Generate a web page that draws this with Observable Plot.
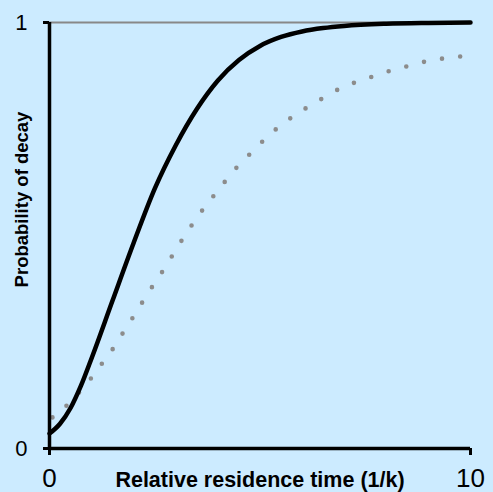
<!DOCTYPE html>
<html>
<head>
<meta charset="utf-8">
<script src="https://cdn.jsdelivr.net/npm/d3@7"></script>
<script src="https://cdn.jsdelivr.net/npm/@observablehq/plot@0.6"></script>
<style>
  html, body { margin: 0; padding: 0; background: #CCEBFF; }
  #chart { width: 493px; height: 492px; overflow: hidden; }
</style>
</head>
<body>
<div id="chart"></div>
<script>
// Solid curve: probability of decay
const timeSolid = [0, 0.25, 0.5, 0.75, 1.0, 1.5, 2.0, 2.5, 3.0, 3.5, 4.0, 4.5, 5.0, 5.5, 6.0, 6.5, 7.0, 8.0, 9.0, 10];
const probSolid = [0.035, 0.058, 0.095, 0.148, 0.212, 0.348, 0.483, 0.610, 0.712, 0.797, 0.864, 0.912, 0.945, 0.966, 0.979, 0.987, 0.992, 0.997, 0.999, 1.0];
// Dotted curve
const timeDotted = [0.07, 0.43, 0.74, 1.02, 1.28, 1.54, 1.78, 2.04, 2.26, 2.52, 2.76, 2.99, 3.23, 3.49, 3.75, 4.04, 4.32, 4.61, 4.92, 5.23, 5.58, 5.96, 6.32, 6.67, 7.05, 7.48, 7.86, 8.31, 8.74, 9.17, 9.57, 10];
const probDotted = [0.073, 0.103, 0.136, 0.169, 0.204, 0.239, 0.277, 0.317, 0.352, 0.392, 0.427, 0.465, 0.502, 0.540, 0.575, 0.610, 0.646, 0.676, 0.707, 0.737, 0.765, 0.791, 0.812, 0.833, 0.852, 0.866, 0.880, 0.892, 0.904, 0.913, 0.918, 0.923];
const xTicks = [0, 10];
const yTicks = [0, 1];
const xLabel = "Relative residence time (1/k)";
const yLabel = "Probability of decay";

const solid = timeSolid.map((t, i) => ({t, p: probSolid[i]}));
const dotted = timeDotted.map((t, i) => ({t, p: probDotted[i]}));

const chart = Plot.plot({
  width: 493,
  height: 492,
  marginLeft: 49,
  marginRight: 23,
  marginTop: 22,
  marginBottom: 44,
  style: {background: "#CCEBFF", fontFamily: "'Liberation Sans', Arial, sans-serif", overflow: "visible"},
  x: {domain: [0, 10]},
  y: {domain: [0, 1]},
  marks: [
    Plot.ruleY([1], {stroke: "#888888", strokeWidth: 2}),
    Plot.line(dotted, {x: "t", y: "p", curve: "monotone-x", stroke: "#8c8c8c", strokeWidth: 4.6, strokeLinecap: "round", strokeDasharray: "0 18.3"}),
    Plot.line(solid, {x: "t", y: "p", curve: "monotone-x", stroke: "black", strokeWidth: 4.5}),
    Plot.ruleX([0], {stroke: "black", strokeWidth: 3.5}),
    Plot.ruleY([0], {stroke: "black", strokeWidth: 3.5}),
    Plot.axisY({ticks: yTicks, tickFormat: d => String(d), tickSize: 6, strokeWidth: 3, tickPadding: 16, fontSize: 22, label: null, color: "black"}),
    Plot.axisX({ticks: xTicks, tickFormat: d => String(d), tickSize: 7, strokeWidth: 3, tickPadding: 13, fontSize: 26, label: null, color: "black"}),
    Plot.text([xLabel], {frameAnchor: "bottom", lineAnchor: "bottom", dy: 38, fontSize: 21.5, fontWeight: "bold", fill: "black", text: d => d}),
    Plot.text([yLabel], {frameAnchor: "left", textAnchor: "middle", dx: -27, dy: -36, rotate: -90, fontSize: 18.5, fontWeight: "bold", fill: "black", text: d => d})
  ]
});
document.getElementById("chart").appendChild(chart);
</script>
</body>
</html>
